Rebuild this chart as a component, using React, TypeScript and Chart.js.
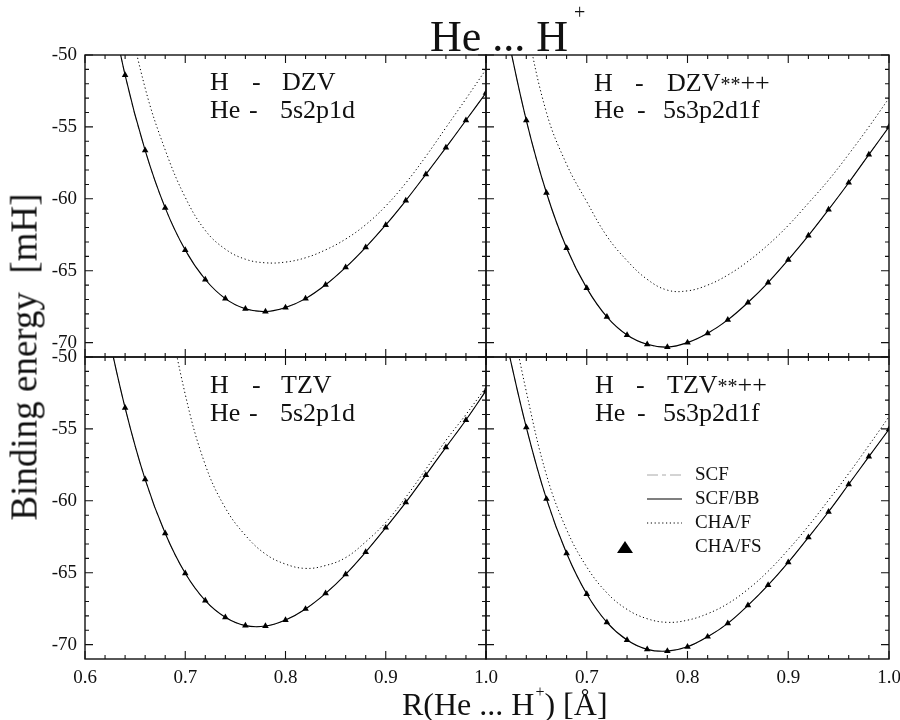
import React, { useEffect, useRef } from 'react';
import { Chart, registerables } from 'chart.js';
Chart.register(...registerables);

// ---------- data ----------
const R_LINE = [0.62, 0.64, 0.66, 0.68, 0.7, 0.72, 0.74, 0.76, 0.78, 0.8, 0.82, 0.84, 0.86, 0.88, 0.9, 0.92, 0.94, 0.96, 0.98, 1.0];
const R_PTS = R_LINE.slice(1);
const X_TICKS_LEFT = [0.6, 0.7, 0.8, 0.9, 1.0];
const X_TICKS_RIGHT = [0.7, 0.8, 0.9, 1.0];
const Y_TICKS = [-70, -65, -60, -55, -50];
const SERIES = ['SCF', 'SCF/BB', 'CHA/F', 'CHA/FS'];

// H - DZV / He - 5s2p1d
const dzvBB = [-44.5, -51.4, -56.63, -60.63, -63.56, -65.61, -66.94, -67.65, -67.84, -67.56, -66.94, -65.98, -64.77, -63.37, -61.82, -60.12, -58.3, -56.44, -54.54, -52.63];
const dzvCHAF = [-38, -46.0, -52.3, -56.6, -59.9, -62.2, -63.5, -64.2, -64.45, -64.4, -64.1, -63.55, -62.8, -61.8, -60.5, -58.9, -57.05, -55.05, -53.05, -51.0];
// H - DZV**++ / He - 5s3p2d1f
const dzvppBB = [-48.2, -54.54, -59.58, -63.42, -66.21, -68.21, -69.47, -70.12, -70.31, -70.0, -69.35, -68.42, -67.21, -65.82, -64.24, -62.56, -60.75, -58.88, -56.93, -55.0];
const dzvppCHAF = [-40, -47.8, -54.0, -57.6, -60.2, -62.6, -64.3, -65.6, -66.35, -66.4, -66.0, -65.3, -64.35, -63.2, -61.85, -60.3, -58.7, -56.9, -55.0, -53.0];
// H - TZV / He - 5s2p1d
const tzvBB = [-47.4, -53.53, -58.51, -62.26, -65.04, -66.94, -68.1, -68.68, -68.71, -68.29, -67.52, -66.44, -65.11, -63.56, -61.87, -60.11, -58.21, -56.28, -54.38, -52.34];
const tzvCHAF = [-18, -28, -37, -45.5, -52.6, -57.5, -60.5, -62.4, -63.7, -64.4, -64.7, -64.5, -63.95, -62.85, -61.5, -59.75, -57.8, -55.8, -54.0, -52.1];
// H - TZV**++ / He - 5s3p2d1f
const tzvppBB = [-48.9, -54.89, -59.87, -63.65, -66.48, -68.45, -69.68, -70.33, -70.45, -70.15, -69.45, -68.52, -67.27, -65.86, -64.28, -62.54, -60.76, -58.85, -56.93, -55.03];
const tzvppCHAF = [-45.5, -52.4, -58.2, -62.0, -64.6, -66.4, -67.55, -68.2, -68.45, -68.3, -67.85, -67.15, -66.15, -64.9, -63.4, -61.75, -59.95, -58.1, -56.15, -54.15];

// ---------- layout ----------
const W = 900, H = 720;
const X_MIN = 0.6, X_MAX = 1.0, Y_MIN = -71, Y_MAX = -50;
const Y_AXIS_W = 60, X_AXIS_H = 40;
const FONT = '"Liberation Serif", "Times New Roman", serif';

type Area = { l: number; t: number; r: number; b: number };
type PanelDef = { bb: number[]; chaf: number[]; area: Area; showX: boolean; showY: boolean; xTicks: number[]; legend: boolean };

const PANELS: PanelDef[] = [
  { bb: dzvBB, chaf: dzvCHAF, area: { l: 85, t: 55, r: 486, b: 357 }, showX: false, showY: true, xTicks: X_TICKS_LEFT, legend: false },
  { bb: dzvppBB, chaf: dzvppCHAF, area: { l: 486, t: 55, r: 889, b: 357 }, showX: false, showY: false, xTicks: X_TICKS_RIGHT, legend: false },
  { bb: tzvBB, chaf: tzvCHAF, area: { l: 85, t: 357, r: 486, b: 659 }, showX: true, showY: true, xTicks: X_TICKS_LEFT, legend: false },
  { bb: tzvppBB, chaf: tzvppCHAF, area: { l: 486, t: 357, r: 889, b: 659 }, showX: true, showY: false, xTicks: X_TICKS_RIGHT, legend: true },
];

const zip = (xs: number[], ys: number[]) => xs.map((x, i) => ({ x, y: ys[i] }));

const frameTicks = {
  id: 'frameTicks',
  afterDraw(chart: any) {
    const { ctx, chartArea: a } = chart;
    const xs = chart.scales.x, ys = chart.scales.y;
    ctx.save();
    ctx.setLineDash([]);
    ctx.strokeStyle = '#111';
    ctx.lineWidth = 1.4;
    ctx.strokeRect(a.left, a.top, a.right - a.left, a.bottom - a.top);
    ctx.lineWidth = 1.1;
    ctx.beginPath();
    for (let i = 0; i <= 20; i++) {
      const px = xs.getPixelForValue(X_MIN + i * 0.02);
      const len = i % 5 === 0 ? 8 : 4;
      ctx.moveTo(px, a.bottom); ctx.lineTo(px, a.bottom - len);
      ctx.moveTo(px, a.top); ctx.lineTo(px, a.top + len);
    }
    for (let v = Y_MIN + 1; v <= Y_MAX; v++) {
      const py = ys.getPixelForValue(v);
      const len = v % 5 === 0 ? 8 : 4;
      ctx.moveTo(a.left, py); ctx.lineTo(a.left + len, py);
      ctx.moveTo(a.right, py); ctx.lineTo(a.right - len, py);
    }
    ctx.stroke();
    ctx.restore();
  },
};

const makeLegend = (show: boolean) => ({
  id: 'customLegend',
  afterDraw(chart: any) {
    if (!show) return;
    const { ctx, chartArea: a } = chart;
    ctx.save();
    ctx.font = `19px ${FONT}`;
    ctx.textBaseline = 'middle';
    ctx.textAlign = 'left';
    chart.data.datasets.forEach((d: any, i: number) => {
      const y = a.top + 118 + i * 24;
      if (d.showLine === false) {
        const cx = a.left + 139, cy = y + 1;
        ctx.fillStyle = '#000';
        ctx.beginPath();
        ctx.moveTo(cx, cy - 7);
        ctx.lineTo(cx + 8, cy + 5);
        ctx.lineTo(cx - 8, cy + 5);
        ctx.closePath();
        ctx.fill();
      } else {
        ctx.strokeStyle = d.borderColor;
        ctx.lineWidth = d.borderWidth;
        ctx.setLineDash(d.borderDash || []);
        ctx.beginPath();
        ctx.moveTo(a.left + 161, y);
        ctx.lineTo(a.left + 196, y);
        ctx.stroke();
      }
      ctx.setLineDash([]);
      ctx.fillStyle = '#111';
      ctx.fillText(d.label, a.left + 209, y);
    });
    ctx.restore();
  },
});

function Panel({ p }: { p: PanelDef }) {
  const ref = useRef<HTMLCanvasElement | null>(null);
  useEffect(() => {
    if (!ref.current) return;
    const a = p.area;
    const lineBase = { pointRadius: 0, tension: 0.4, cubicInterpolationMode: 'default' };
    const chart = new Chart(ref.current, {
      type: 'line',
      data: {
        datasets: [
          { ...lineBase, label: SERIES[0], data: zip(R_LINE, p.bb), borderColor: '#a8a8a8', borderWidth: 1, borderDash: [11, 4, 4, 4], order: 3 },
          { ...lineBase, label: SERIES[1], data: zip(R_LINE, p.bb), borderColor: '#000', borderWidth: 1.1, order: 2 },
          { ...lineBase, label: SERIES[2], data: zip(R_LINE, p.chaf), borderColor: '#000', borderWidth: 1, borderDash: [1.2, 2.6], order: 1 },
          { label: SERIES[3], data: zip(R_PTS, p.bb.slice(1)), showLine: false, pointStyle: 'triangle', pointRadius: 3.8, pointBackgroundColor: '#000', pointBorderColor: '#000', pointBorderWidth: 0, order: 0 },
        ] as any,
      },
      options: {
        animation: false,
        responsive: false,
        maintainAspectRatio: false,
        devicePixelRatio: 1,
        events: [],
        layout: {
          padding: {
            left: p.showY ? a.l - Y_AXIS_W : a.l,
            right: W - a.r,
            top: a.t,
            bottom: p.showX ? H - a.b - X_AXIS_H : H - a.b,
          },
        },
        elements: { line: { capBezierPoints: false } },
        plugins: { legend: { display: false }, tooltip: { enabled: false } },
        scales: {
          x: {
            type: 'linear', min: X_MIN, max: X_MAX, position: 'bottom', display: p.showX,
            grid: { display: false, drawTicks: false }, border: { display: false },
            ticks: { font: { family: FONT, size: 19 }, color: '#111', padding: 8, autoSkip: false, maxRotation: 0, callback: (v: any) => Number(v).toFixed(1) },
            afterBuildTicks: (s: any) => { s.ticks = p.xTicks.map((v) => ({ value: v })); },
            afterFit: (s: any) => { s.height = p.showX ? X_AXIS_H : 0; s.paddingLeft = 0; s.paddingRight = 0; },
          },
          y: {
            type: 'linear', min: Y_MIN, max: Y_MAX, position: 'left', display: p.showY,
            grid: { display: false, drawTicks: false }, border: { display: false },
            ticks: { font: { family: FONT, size: 19 }, color: '#111', padding: 8, autoSkip: false, callback: (v: any) => String(v) },
            afterBuildTicks: (s: any) => { s.ticks = Y_TICKS.map((v) => ({ value: v })); },
            afterFit: (s: any) => { s.width = p.showY ? Y_AXIS_W : 0; s.paddingTop = 0; s.paddingBottom = 0; },
          },
        },
      } as any,
      plugins: [frameTicks, makeLegend(p.legend)],
    });
    return () => chart.destroy();
  }, [p]);
  return <canvas ref={ref} width={W} height={H} style={{ position: 'absolute', left: 0, top: 0 }} />;
}

function Txt({ x, base, size, children, style }: { x: number; base: number; size: number; children: React.ReactNode; style?: React.CSSProperties }) {
  return (
    <div style={{ position: 'absolute', left: x, top: base - 0.8375 * size, fontSize: size, lineHeight: 1, whiteSpace: 'pre', color: '#111', ...style }}>
      {children}
    </div>
  );
}

const Star = () => <span style={{ fontSize: 20 }}>**</span>;

function Label({ x0, xd1, xd2, x2a, x2b, b1, b2, basis, he }: { x0: number; xd1: number; xd2: number; x2a: number; x2b: number; b1: number; b2: number; basis: React.ReactNode; he: string }) {
  return (
    <>
      <Txt x={x0} base={b1} size={26}>H</Txt>
      <Txt x={xd1} base={b1} size={26}>-</Txt>
      <Txt x={x2a} base={b1} size={26}>{basis}</Txt>
      <Txt x={x0} base={b2} size={26}>He</Txt>
      <Txt x={xd2} base={b2} size={26}>-</Txt>
      <Txt x={x2b} base={b2} size={26}>{he}</Txt>
    </>
  );
}

export default function App() {
  return (
    <div style={{ position: 'absolute', left: 0, top: 0, width: W, height: H, background: '#fff', overflow: 'hidden', fontFamily: FONT }}>
      {PANELS.map((p, i) => <Panel key={i} p={p} />)}
      <Txt x={430} base={52} size={44}>
        He ... H<span style={{ fontSize: 20, position: 'relative', top: -32, paddingLeft: 6 }}>+</span>
      </Txt>
      <div style={{ position: 'absolute', left: 24, top: 357, transform: 'translate(-50%,-50%) rotate(-90deg)', fontSize: 37, lineHeight: 1, whiteSpace: 'pre', color: '#111' }}>
        Binding energy  [mH]
      </div>
      <Txt x={402} base={715} size={32}>
        R(He ... H<span style={{ fontSize: 16, position: 'relative', top: -18, paddingLeft: 1 }}>+</span>) [Å]
      </Txt>
      <Label x0={210} xd1={252} xd2={249} x2a={282} x2b={280} b1={91} b2={118.5} basis="DZV" he="5s2p1d" />
      <Label x0={594} xd1={635} xd2={637} x2a={667} x2b={663} b1={91.5} b2={118.5} basis={<>DZV<Star />++</>} he="5s3p2d1f" />
      <Label x0={210} xd1={252} xd2={249} x2a={281} x2b={280} b1={393.3} b2={421.3} basis="TZV" he="5s2p1d" />
      <Label x0={595} xd1={636} xd2={637} x2a={667} x2b={663} b1={393.3} b2={421.3} basis={<>TZV<Star />++</>} he="5s3p2d1f" />
    </div>
  );
}
